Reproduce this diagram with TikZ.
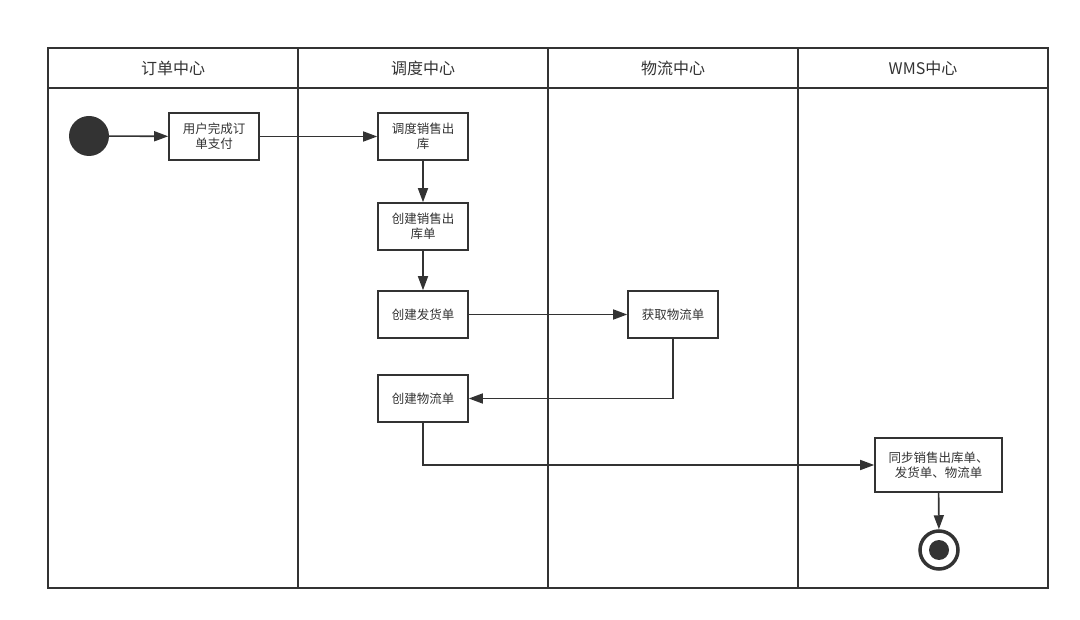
\documentclass[tikz,border=0pt]{standalone}
\usepackage{fontspec}
\setmainfont{Noto Sans CJK SC}
\usetikzlibrary{arrows.meta}
\definecolor{ln}{HTML}{333333}
\begin{document}
\begin{tikzpicture}[x=1pt,y=-1pt,
  lane/.style={draw=ln,line width=2pt},
  act/.style={draw=ln,line width=1.6pt,fill=white,minimum width=90pt,minimum height=47pt,inner sep=2pt,align=center,font=\fontsize{12.5}{15}\selectfont,text=ln},
  hdr/.style={font=\fontsize{16}{18}\selectfont,text=ln},
  flow/.style={draw=ln,line width=1.6pt,-{Triangle[length=14pt,width=10pt]}}]
\useasboundingbox (0,0) rectangle (1080,620);
\draw[lane] (48,48) rectangle (1048,588);
\draw[lane] (48,88) -- (1048,88);
\draw[lane] (298,48) -- (298,588);
\draw[lane] (548,48) -- (548,588);
\draw[lane] (798,48) -- (798,588);
\node[hdr] (h1) at (173,68) {订单中心};
\node[hdr] (h2) at (423,68) {调度中心};
\node[hdr] (h3) at (673,68) {物流中心};
\node[hdr] (h4) at (923,68) {WMS中心};
\node[circle,fill=ln,minimum size=40pt,inner sep=0pt] (start) at (89,136) {};
\node[act] (a1) at (214,136.5) {用户完成订\\单支付};
\node[act] (a2) at (423,136.5) {调度销售出\\库};
\node[act] (a3) at (423,226.5) {创建销售出\\库单};
\node[act] (a4) at (423,314.5) {创建发货单};
\node[act] (a5) at (673,314.5) {获取物流单};
\node[act] (a6) at (423,398.5) {创建物流单};
\node[act,minimum width=127pt,minimum height=54pt] (a7) at (938.5,465) {同步销售出库单、\\发货单、物流单};
\node[circle,draw=ln,line width=3.5pt,fill=white,minimum size=38pt,inner sep=0pt] (end) at (939,550) {};
\node[circle,fill=ln,minimum size=20pt,inner sep=0pt] (endin) at (939,550) {};
\draw[flow] (start) -- (a1);
\draw[flow] (a1) -- (a2);
\draw[flow] (a2) -- (a3);
\draw[flow] (a3) -- (a4);
\draw[flow] (a4) -- (a5);
\draw[flow] (a5.south) |- (a6.east);
\draw[flow] (a6.south) |- (a7.west);
\draw[flow] (a7) -- (end);
\end{tikzpicture}
\end{document}
